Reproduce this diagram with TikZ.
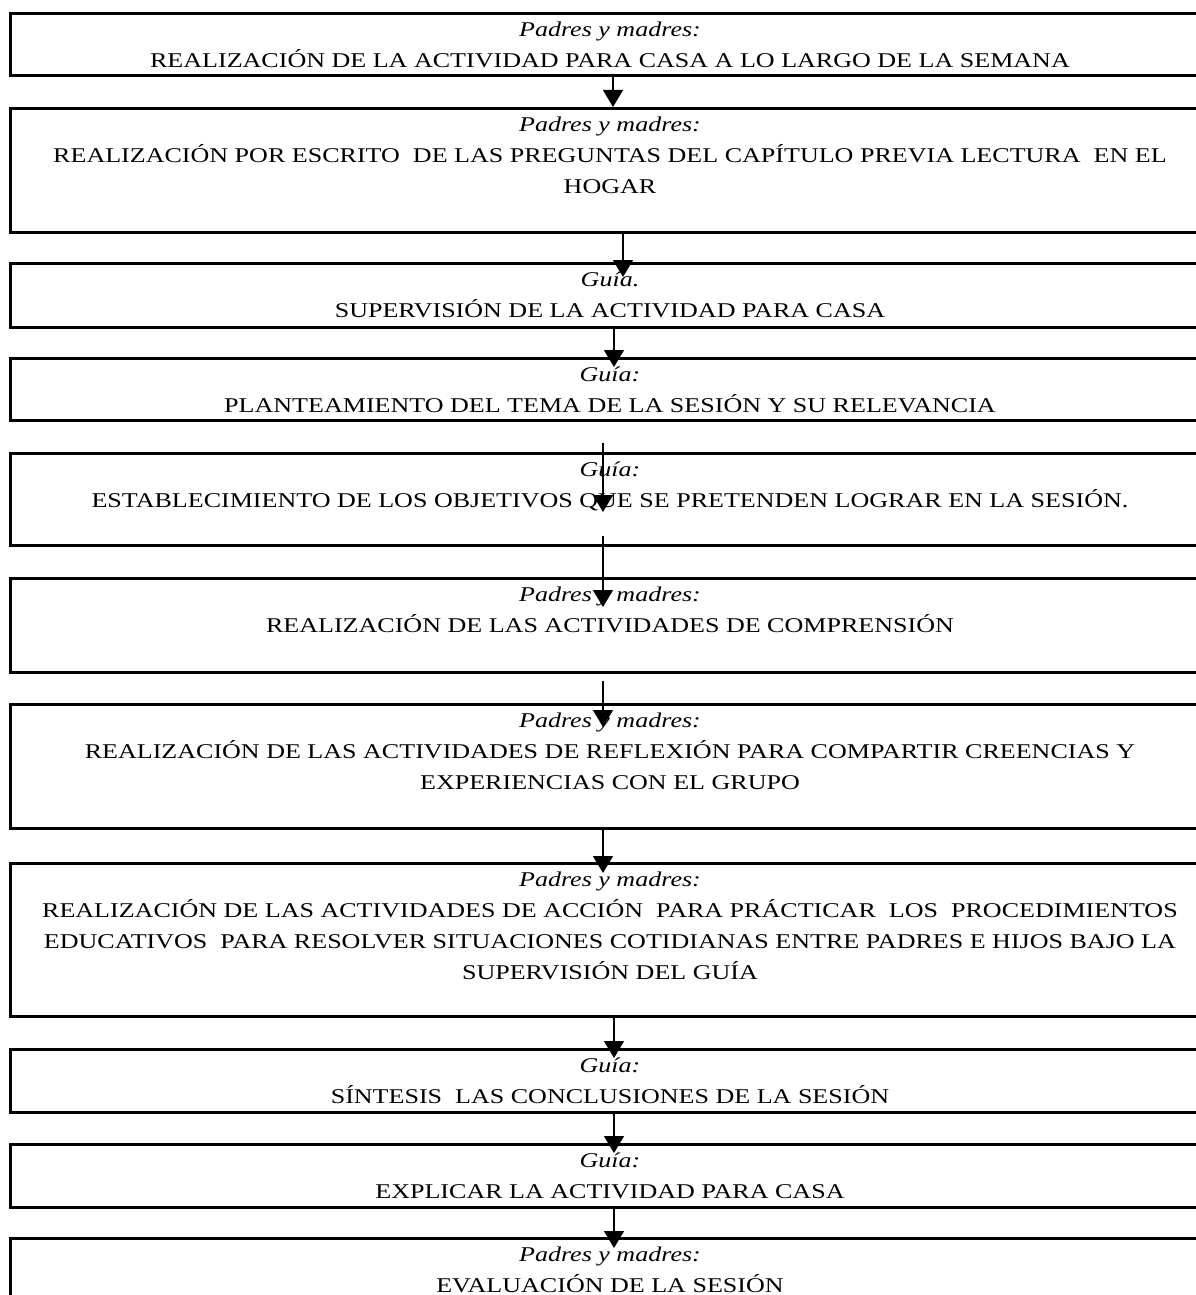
\documentclass[tikz,border=0pt]{standalone}
\usepackage{fontspec}
\setmainfont{Liberation Serif}[FakeStretch=1.24]
\usetikzlibrary{positioning,arrows.meta}
\tikzset{
  stepbox/.style={draw, line width=3pt, minimum width=1200pt, inner sep=0pt, anchor=north},
  steptext/.style={align=center, inner sep=0pt, font=\fontsize{21}{31}\selectfont},
  flow/.style={line width=1.3pt, -{Triangle[length=17pt,width=20pt]}}
}
\begin{document}
\begin{tikzpicture}[x=1pt, y=-1pt]
\useasboundingbox (0,0) rectangle (1196,1295);
\clip (0,0) rectangle (1196,1295);
\fill[white] (0,0) rectangle (1196,1295);
\node[stepbox, minimum height=62pt] (b1) at (610,12){};
\node[stepbox, minimum height=124pt] (b2) at (610,107){};
\node[stepbox, minimum height=64pt] (b3) at (610,262){};
\node[stepbox, minimum height=62pt] (b4) at (610,357){};
\node[stepbox, minimum height=92pt] (b5) at (610,452){};
\node[stepbox, minimum height=94pt] (b6) at (610,577){};
\node[stepbox, minimum height=124pt] (b7) at (610,703){};
\node[stepbox, minimum height=153pt] (b8) at (610,862){};
\node[stepbox, minimum height=63pt] (b9) at (610,1048){};
\node[stepbox, minimum height=63pt] (b10) at (610,1143){};
\node[stepbox, minimum height=120pt] (b11) at (610,1237){};
\node[steptext, below=10pt of b1.north] (t1){\textit{Padres y madres:}\\REALIZACIÓN DE LA ACTIVIDAD PARA CASA A LO LARGO DE LA SEMANA};
\node[steptext, below=10pt of b2.north] (t2){\textit{Padres y madres:}\\REALIZACIÓN POR ESCRITO\ \ DE LAS PREGUNTAS DEL CAPÍTULO PREVIA LECTURA\ \ EN EL\\HOGAR};
\node[steptext, below=10pt of b3.north] (t3){\textit{Guía.}\\SUPERVISIÓN DE LA ACTIVIDAD PARA CASA};
\node[steptext, below=10pt of b4.north] (t4){\textit{Guía:}\\PLANTEAMIENTO DEL TEMA DE LA SESIÓN Y SU RELEVANCIA};
\node[steptext, below=10pt of b5.north] (t5){\textit{Guía:}\\ESTABLECIMIENTO DE LOS OBJETIVOS QUE SE PRETENDEN LOGRAR EN LA SESIÓN.};
\node[steptext, below=10pt of b6.north] (t6){\textit{Padres y madres:}\\REALIZACIÓN DE LAS ACTIVIDADES DE COMPRENSIÓN};
\node[steptext, below=10pt of b7.north] (t7){\textit{Padres y madres:}\\REALIZACIÓN DE LAS ACTIVIDADES DE REFLEXIÓN PARA COMPARTIR CREENCIAS Y\\EXPERIENCIAS CON EL GRUPO};
\node[steptext, below=10pt of b8.north] (t8){\textit{Padres y madres:}\\REALIZACIÓN DE LAS ACTIVIDADES DE ACCIÓN\ \ PARA PRÁCTICAR\ \ LOS\ \ PROCEDIMIENTOS\\EDUCATIVOS\ \ PARA RESOLVER SITUACIONES COTIDIANAS ENTRE PADRES E HIJOS BAJO LA\\SUPERVISIÓN DEL GUÍA};
\node[steptext, below=10pt of b9.north] (t9){\textit{Guía:}\\SÍNTESIS\ \ LAS CONCLUSIONES DE LA SESIÓN};
\node[steptext, below=10pt of b10.north] (t10){\textit{Guía:}\\EXPLICAR LA ACTIVIDAD PARA CASA};
\node[steptext, below=10pt of b11.north] (t11){\textit{Padres y madres:}\\EVALUACIÓN DE LA SESIÓN};
\draw[flow]([xshift=3pt]b1.south) -- ([xshift=3pt]b2.north);
\draw[flow]([xshift=13pt]b2.south) -- ([xshift=13pt,yshift=-15pt]b3.north);
\draw[flow]([xshift=4pt]b3.south) -- ([xshift=4pt,yshift=-10pt]b4.north);
\draw[flow]([xshift=-7pt,yshift=-21pt]b4.south) -- ([xshift=-7pt,yshift=-60pt]b5.north);
\draw[flow]([xshift=-7pt,yshift=11pt]b5.south) -- ([xshift=-7pt,yshift=-30pt]b6.north);
\draw[flow]([xshift=-7pt,yshift=-7pt]b6.south) -- ([xshift=-7pt,yshift=-24pt]b7.north);
\draw[flow]([xshift=-7pt]b7.south) -- ([xshift=-7pt,yshift=-11pt]b8.north);
\draw[flow]([xshift=4pt]b8.south) -- ([xshift=4pt,yshift=-10pt]b9.north);
\draw[flow]([xshift=4pt]b9.south) -- ([xshift=4pt,yshift=-10pt]b10.north);
\draw[flow]([xshift=4pt]b10.south) -- ([xshift=4pt,yshift=-11pt]b11.north);
\end{tikzpicture}
\end{document}
